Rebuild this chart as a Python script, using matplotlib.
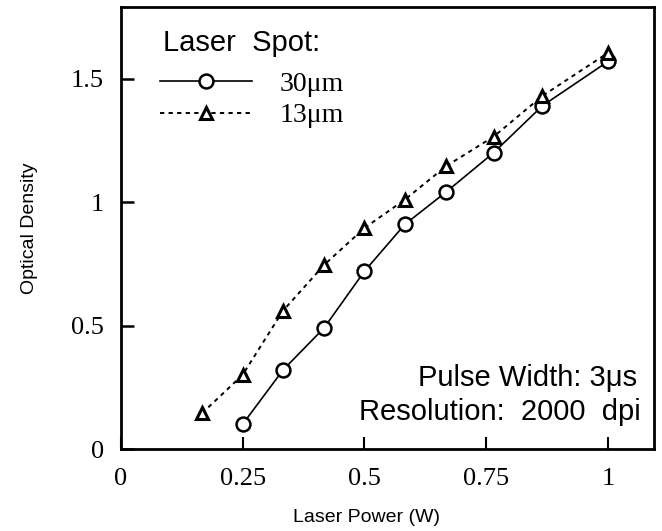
import matplotlib
matplotlib.use("Agg")
import matplotlib.pyplot as plt
import numpy as np

# data
power_30 = [0.25, 0.333, 0.417, 0.5, 0.583, 0.667, 0.765, 0.865, 1.0]
od_30 = [0.10, 0.32, 0.49, 0.72, 0.91, 1.04, 1.20, 1.39, 1.57]

power_13 = [0.167, 0.25, 0.333, 0.417, 0.5, 0.583, 0.667, 0.765, 0.865, 1.0]
od_13 = [0.145, 0.30, 0.56, 0.745, 0.895, 1.01, 1.145, 1.265, 1.43, 1.605]

xticks = [0, 0.25, 0.5, 0.75, 1]
xtick_labels = ["0", "0.25", "0.5", "0.75", "1"]
yticks = [0, 0.5, 1, 1.5]
ytick_labels = ["0", "0.5", "1", "1.5"]

serif = "Liberation Serif"
sans = "Liberation Sans"

fig = plt.figure(figsize=(6.62, 5.31), dpi=100)
ax = fig.add_axes([0.1823, 0.1544, 0.988 - 0.1823, 0.9868 - 0.1544])

l30, = ax.plot(power_30, od_30, "-", color="black", lw=1.2,
               marker="o", ms=10, mfc="white", mec="black", mew=1.8)
l13, = ax.plot(power_13, od_13, linestyle=(0, (2.2, 2.2)), color="black", lw=1.4,
               marker="^", ms=9, mfc="white", mec="black", mew=2.2)

ax.set_xlim(0, 1.094)
ax.set_ylim(0, 1.79)
ax.set_xticks(xticks)
ax.set_xticklabels(xtick_labels, fontfamily=serif, fontsize=19)
ax.set_yticks(yticks)
ax.set_yticklabels(ytick_labels, fontfamily=serif, fontsize=19)
ax.tick_params(axis="x", direction="in", length=9, width=1.5, pad=14)
ax.tick_params(axis="y", direction="in", length=9, width=1.8, pad=12)
for s in ax.spines.values():
    s.set_linewidth(2.0)

ax.set_xlabel("Laser Power (W)", fontfamily=sans, fontsize=14)
ax.xaxis.set_label_coords(0.46, -0.135)
ax.set_ylabel("Optical Density", fontfamily=sans, fontsize=14)
ax.yaxis.set_label_coords(-0.155, 0.5)

ax.text(0.079, 0.918, "Laser  Spot:", transform=ax.transAxes,
        ha="left", va="center", fontfamily=sans, fontsize=21)
ax.legend([l30, l13], ["30\u03bcm", "13\u03bcm"], loc="upper left",
          bbox_to_anchor=(0.074, 0.855), frameon=False,
          prop={"family": serif, "size": 20}, handlelength=3.3,
          handletextpad=1.0, labelspacing=0.23, borderpad=0, borderaxespad=0)

ax.text(0.968, 0.161, "Pulse Width: 3\u03bcs", transform=ax.transAxes,
        ha="right", va="center", fontfamily=sans, fontsize=21)
ax.text(0.975, 0.084, "Resolution:  2000  dpi", transform=ax.transAxes,
        ha="right", va="center", fontfamily=sans, fontsize=21)

fig.savefig("out.png", dpi=100)
